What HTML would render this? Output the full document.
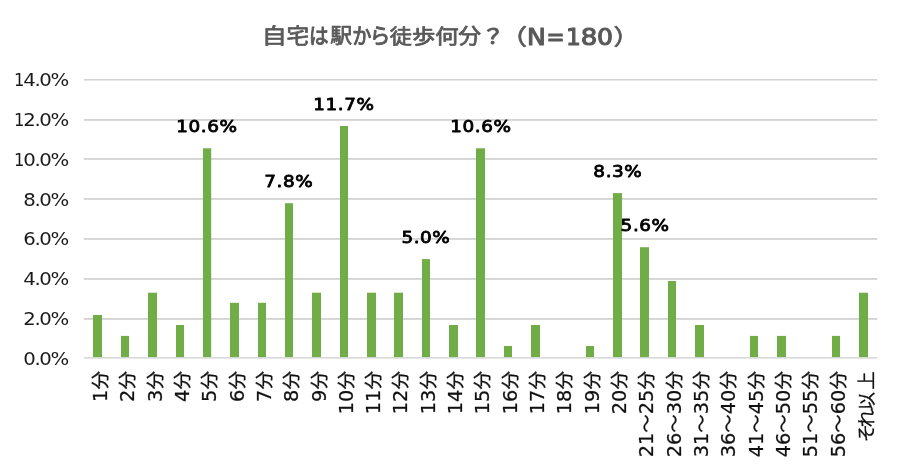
<!DOCTYPE html>
<html lang="ja">
<head>
<meta charset="utf-8">
<title>自宅は駅から徒歩何分？（N=180）</title>
<style>
html,body{margin:0;padding:0;background:#fff;}
body{width:900px;height:469px;overflow:hidden;}
svg{display:block;}
text{font-family:"DejaVu Sans", "Noto Sans CJK JP", sans-serif;}
.title{fill:#595959;stroke:#595959;stroke-width:0.75px;stroke-linejoin:round;font-size:21px;}
.title .l{font-size:23px;stroke-width:1.1px;}
.yl{font-size:17px;fill:#1a1a1a;text-anchor:end;letter-spacing:-1.2px;}
.xl{font-size:18.5px;fill:#111;stroke:#111;stroke-width:0.25px;text-anchor:end;}
.xl .n{font-size:19.3px;}
.dl{font-size:16px;fill:#000;stroke:#000;stroke-width:0.8px;stroke-linejoin:round;letter-spacing:0.5px;}
</style>
</head>
<body>
<svg width="900" height="469" viewBox="0 0 900 469">
<rect width="900" height="469" fill="#fff"/>
<g id="chart-title">
<text class="title"><tspan x="261.8" y="43" textLength="25.1" lengthAdjust="spacingAndGlyphs">自</tspan><tspan x="286.4" y="43" textLength="22.6" lengthAdjust="spacingAndGlyphs">宅</tspan><tspan x="308.9" y="43" stroke-width="1.0" textLength="19.6" lengthAdjust="spacingAndGlyphs">は</tspan><tspan x="330.3" y="43" font-size="20" textLength="21.9" lengthAdjust="spacingAndGlyphs">駅</tspan><tspan x="352.3" y="43" stroke-width="1.0" textLength="19.2" lengthAdjust="spacingAndGlyphs">か</tspan><tspan x="369.7" y="43" stroke-width="1.0" textLength="20.6" lengthAdjust="spacingAndGlyphs">ら</tspan><tspan x="389.7" y="44" font-size="20" textLength="22.1" lengthAdjust="spacingAndGlyphs">徒</tspan><tspan x="412.1" y="44" font-size="20" textLength="23.3" lengthAdjust="spacingAndGlyphs">歩</tspan><tspan x="435.2" y="44" font-size="20" textLength="23.4" lengthAdjust="spacingAndGlyphs">何</tspan><tspan x="458.2" y="43" textLength="22.8" lengthAdjust="spacingAndGlyphs">分</tspan><tspan x="481.4" y="44" font-size="20" stroke-width="1.0" textLength="22.8" lengthAdjust="spacingAndGlyphs">？</tspan><tspan x="500.1" y="44" font-size="22" textLength="27.1" lengthAdjust="spacingAndGlyphs">（</tspan><tspan class="l" x="527.1" y="45" textLength="18.8" lengthAdjust="spacingAndGlyphs">N</tspan><tspan class="l" x="546.5" y="45" textLength="18.1" lengthAdjust="spacingAndGlyphs">=</tspan><tspan class="l" x="565.9" y="45" textLength="14.8" lengthAdjust="spacingAndGlyphs">1</tspan><tspan class="l" x="580.8" y="45" textLength="16.6" lengthAdjust="spacingAndGlyphs">8</tspan><tspan class="l" x="597.1" y="45" textLength="16.0" lengthAdjust="spacingAndGlyphs">0</tspan><tspan x="613.6" y="44" font-size="22" textLength="25.8" lengthAdjust="spacingAndGlyphs">）</tspan></text>
</g>
<g id="gridlines" stroke="#cecece" stroke-width="1.4">
<line x1="83.9" x2="877.2" y1="319.00" y2="319.00"/>
<line x1="83.9" x2="877.2" y1="279.00" y2="279.00"/>
<line x1="83.9" x2="877.2" y1="239.00" y2="239.00"/>
<line x1="83.9" x2="877.2" y1="199.00" y2="199.00"/>
<line x1="83.9" x2="877.2" y1="159.00" y2="159.00"/>
<line x1="83.9" x2="877.2" y1="120.05" y2="120.05"/>
<line x1="83.9" x2="877.2" y1="79.85" y2="79.85"/>
</g>
<g id="gridline-texture" stroke="#000" stroke-opacity="0.06" stroke-width="1" stroke-dasharray="1 1">
<line x1="84" x2="877" y1="318.5" y2="318.5"/>
<line x1="84" x2="877" y1="278.5" y2="278.5"/>
<line x1="84" x2="877" y1="238.5" y2="238.5"/>
<line x1="84" x2="877" y1="198.5" y2="198.5"/>
<line x1="84" x2="877" y1="158.5" y2="158.5"/>
<line x1="84" x2="877" y1="119.5" y2="119.5"/>
<line x1="84" x2="877" y1="79.5" y2="79.5"/>
</g>
<g id="bars" fill="#70ad47">
<rect x="93" y="315.0" width="9.0" height="42.2"/>
<rect x="121" y="335.9" width="8.0" height="21.3"/>
<rect x="148" y="292.7" width="9.0" height="64.5"/>
<rect x="176" y="325.0" width="8.0" height="32.2"/>
<rect x="203" y="148.3" width="8.2" height="208.9"/>
<rect x="230" y="302.8" width="9.0" height="54.4"/>
<rect x="258" y="302.8" width="8.0" height="54.4"/>
<rect x="285" y="203.2" width="8.0" height="154.0"/>
<rect x="312" y="292.7" width="9.0" height="64.5"/>
<rect x="340" y="126.0" width="8.0" height="231.2"/>
<rect x="367" y="292.7" width="9.0" height="64.5"/>
<rect x="394" y="292.7" width="9.0" height="64.5"/>
<rect x="422" y="259.1" width="8.0" height="98.1"/>
<rect x="449" y="325.0" width="9.0" height="32.2"/>
<rect x="476" y="148.3" width="9.0" height="208.9"/>
<rect x="504" y="346.0" width="8.0" height="11.2"/>
<rect x="531" y="325.0" width="9.0" height="32.2"/>
<rect x="586" y="346.0" width="8.0" height="11.2"/>
<rect x="613" y="193.1" width="9.0" height="164.1"/>
<rect x="640" y="247.2" width="9.0" height="110.0"/>
<rect x="668" y="281.0" width="8.0" height="76.2"/>
<rect x="695" y="325.0" width="9.0" height="32.2"/>
<rect x="750" y="335.9" width="8.0" height="21.3"/>
<rect x="777" y="335.9" width="9.0" height="21.3"/>
<rect x="832" y="335.9" width="8.0" height="21.3"/>
<rect x="859" y="292.7" width="9.0" height="64.5"/>
</g>
<line id="axis" x1="83.9" x2="877.2" y1="357.90" y2="357.90" stroke="#cecece" stroke-width="1.4"/>
<g id="y-axis-labels" class="yl">
<text transform="translate(67.85 365) scale(1.16 1)">0.0%</text>
<text transform="translate(67.85 325) scale(1.16 1)">2.0%</text>
<text transform="translate(67.85 285) scale(1.16 1)">4.0%</text>
<text transform="translate(67.85 245) scale(1.16 1)">6.0%</text>
<text transform="translate(67.85 206) scale(1.16 1)">8.0%</text>
<text transform="translate(67.85 166) scale(1.16 1)"><tspan textLength="8" lengthAdjust="spacingAndGlyphs">1</tspan>0.0%</text>
<text transform="translate(67.85 126) scale(1.16 1)"><tspan textLength="8" lengthAdjust="spacingAndGlyphs">1</tspan>2.0%</text>
<text transform="translate(67.85 86) scale(1.16 1)"><tspan textLength="8" lengthAdjust="spacingAndGlyphs">1</tspan>4.0%</text>
</g>
<g id="x-axis-labels">
<text class="xl" transform="translate(106.89 371.1) rotate(-90)"><tspan class="n">1</tspan>分</text>
<text class="xl" transform="translate(134.22 371.1) rotate(-90)"><tspan class="n">2</tspan>分</text>
<text class="xl" transform="translate(161.54 371.1) rotate(-90)"><tspan class="n">3</tspan>分</text>
<text class="xl" transform="translate(188.87 371.1) rotate(-90)"><tspan class="n">4</tspan>分</text>
<text class="xl" transform="translate(216.19 371.1) rotate(-90)"><tspan class="n">5</tspan>分</text>
<text class="xl" transform="translate(243.52 371.1) rotate(-90)"><tspan class="n">6</tspan>分</text>
<text class="xl" transform="translate(270.85 371.1) rotate(-90)"><tspan class="n">7</tspan>分</text>
<text class="xl" transform="translate(298.17 371.1) rotate(-90)"><tspan class="n">8</tspan>分</text>
<text class="xl" transform="translate(325.50 371.1) rotate(-90)"><tspan class="n">9</tspan>分</text>
<text class="xl" transform="translate(352.82 371.1) rotate(-90)"><tspan class="n">10</tspan>分</text>
<text class="xl" transform="translate(380.15 371.1) rotate(-90)"><tspan class="n">11</tspan>分</text>
<text class="xl" transform="translate(407.48 371.1) rotate(-90)"><tspan class="n">12</tspan>分</text>
<text class="xl" transform="translate(434.80 371.1) rotate(-90)"><tspan class="n">13</tspan>分</text>
<text class="xl" transform="translate(462.13 371.1) rotate(-90)"><tspan class="n">14</tspan>分</text>
<text class="xl" transform="translate(489.45 371.1) rotate(-90)"><tspan class="n">15</tspan>分</text>
<text class="xl" transform="translate(516.78 371.1) rotate(-90)"><tspan class="n">16</tspan>分</text>
<text class="xl" transform="translate(544.11 371.1) rotate(-90)"><tspan class="n">17</tspan>分</text>
<text class="xl" transform="translate(571.43 371.1) rotate(-90)"><tspan class="n">18</tspan>分</text>
<text class="xl" transform="translate(598.76 371.1) rotate(-90)"><tspan class="n">19</tspan>分</text>
<text class="xl" transform="translate(626.08 371.1) rotate(-90)"><tspan class="n">20</tspan>分</text>
<text class="xl" transform="translate(653.41 371.1) rotate(-90)"><tspan class="n">21</tspan>～<tspan class="n">25</tspan>分</text>
<text class="xl" transform="translate(680.74 371.1) rotate(-90)"><tspan class="n">26</tspan>～<tspan class="n">30</tspan>分</text>
<text class="xl" transform="translate(708.06 371.1) rotate(-90)"><tspan class="n">31</tspan>～<tspan class="n">35</tspan>分</text>
<text class="xl" transform="translate(735.39 371.1) rotate(-90)"><tspan class="n">36</tspan>～<tspan class="n">40</tspan>分</text>
<text class="xl" transform="translate(762.71 371.1) rotate(-90)"><tspan class="n">41</tspan>～<tspan class="n">45</tspan>分</text>
<text class="xl" transform="translate(790.04 371.1) rotate(-90)"><tspan class="n">46</tspan>～<tspan class="n">50</tspan>分</text>
<text class="xl" transform="translate(817.37 371.1) rotate(-90)"><tspan class="n">51</tspan>～<tspan class="n">55</tspan>分</text>
<text class="xl" transform="translate(844.69 371.1) rotate(-90)"><tspan class="n">56</tspan>～<tspan class="n">60</tspan>分</text>
<text class="xl" style="text-anchor:start" transform="translate(873.02 441.7) rotate(-90)" x="-0.6 14.2 31.3 52.0">それ以上</text>
</g>
<g id="data-labels" class="dl">
<text transform="translate(176.27 132) scale(1.15 1)">10.6%</text>
<text transform="translate(264.20 187) scale(1.15 1)">7.8%</text>
<text transform="translate(313.17 110) scale(1.15 1)">11.7%</text>
<text transform="translate(401.39 243) scale(1.15 1)">5.0%</text>
<text transform="translate(450.27 132) scale(1.15 1)">10.6%</text>
<text transform="translate(593.36 177) scale(1.15 1)">8.3%</text>
<text transform="translate(620.61 231) scale(1.15 1)">5.6%</text>
</g>
</svg>
</body>
</html>
